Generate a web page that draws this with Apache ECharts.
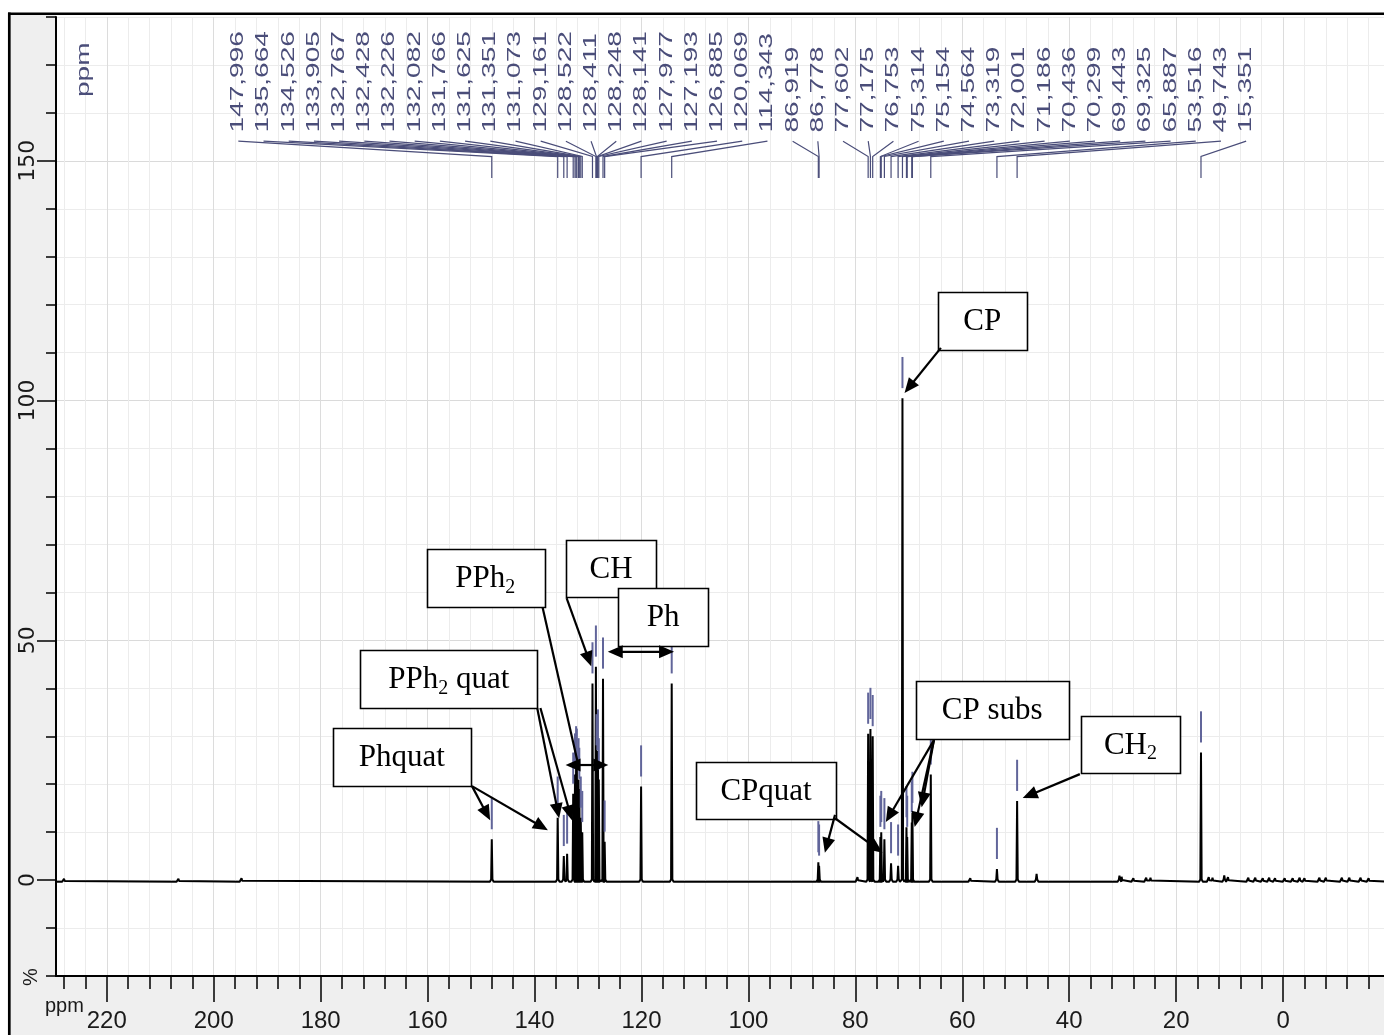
<!DOCTYPE html>
<html>
<head>
<meta charset="utf-8">
<title>13C NMR spectrum</title>
<script src="https://cdn.jsdelivr.net/npm/echarts@6/dist/echarts.min.js"></script>
<style>
  html, body { margin: 0; padding: 0; background: #fff; }
  #chart { width: 1384px; height: 1035px; }
</style>
</head>
<body>
<div id="chart"></div>
<script>
// Picked peaks: chemical shift (ppm) and intensity (%)
const peakPpm = [
  147.996, 135.664, 134.526, 133.905, 132.767, 132.428, 132.226, 132.082,
  131.766, 131.625, 131.351, 131.073, 129.161, 128.522, 128.411, 128.248,
  128.141, 127.977, 127.193, 126.885, 120.069, 114.343, 86.919, 86.778,
  77.602, 77.175, 76.753, 75.314, 75.154, 74.564, 73.319, 72.001,
  71.186, 70.436, 70.299, 69.443, 69.325, 65.887, 53.516, 49.743, 15.351
];
const peakHeight = [
  8.5, 13, 5, 5.5, 18, 22, 23.5, 23,
  21, 19, 13, 10, 41, 44.5, 26, 25,
  27, 21, 42, 8, 19.5, 41, 3.7, 3,
  30.5, 31.5, 30, 9, 10, 8.5, 3.5, 3,
  100.5, 11, 9, 12, 14, 22, 2.3, 16.5, 26.6
];
// Small unpicked signals and baseline noise
const minorPpm = [
  228.0, 206.6, 194.8, 79.6, 58.5, 46.1, 30.6, 30.2, 28.0, 25.6, 24.8,
  13.9, 13.2, 11.0, 10.3, 6.5, 5.2, 3.8, 2.6, 1.5, -0.3, -1.8, -3.1,
  -4.0, -6.8, -8.0, -11.0, -12.4, -14.5, -16.0
];
const minorHeight = [
  0.3, 0.3, 0.4, 0.6, 0.4, 1.3, 0.9, 0.7, 0.4, 0.5, 0.5,
  0.6, 0.5, 1.0, 0.6, 0.5, 0.5, 0.4, 0.5, 0.4, 0.4, 0.4, 0.5,
  0.4, 0.5, 0.5, 0.5, 0.5, 0.5, 0.4
];

// Axis ticks
const xMajorTicks = [220, 200, 180, 160, 140, 120, 100, 80, 60, 40, 20, 0];
const yMajorTicks = [0, 50, 100, 150];

// Assignment call-outs: text, box [ppm left, % top, ppm right, % bottom]
const calloutText = ['CP', 'PPh₂', 'CH', 'Ph', 'PPh₂ quat', 'Phquat', 'CPquat', 'CP subs', 'CH₂'];
const calloutBox = [
  [64.6, 122.6, 47.9, 110.5],
  [160.2, 69.0, 138.2, 56.9],
  [134.1, 70.9, 117.3, 59.0],
  [124.4, 60.9, 107.5, 48.8],
  [172.6, 48.0, 139.5, 35.9],
  [177.7, 31.7, 151.9, 19.6],
  [109.8, 24.6, 83.6, 12.7],
  [68.7, 41.5, 40.1, 29.4],
  [37.8, 34.2, 19.3, 22.3]
];
// Call-out arrows: [ppm from, % from, ppm to, % to, heads (0 none, 1 end, 2 both)]
const calloutArrows = [
  [64.0, 111.0, 70.8, 101.6, 1],
  [138.5, 56.9, 131.9, 24.4, 0],
  [134.2, 24.0, 126.2, 24.0, 2],
  [134.0, 58.8, 129.4, 44.6, 1],
  [126.3, 47.6, 113.9, 47.6, 2],
  [139.5, 35.9, 135.4, 12.9, 1],
  [138.9, 35.9, 133.0, 12.5, 1],
  [151.7, 19.6, 148.3, 12.5, 1],
  [151.7, 19.6, 137.5, 10.4, 1],
  [83.8, 13.6, 85.7, 5.7, 1],
  [83.8, 12.9, 74.9, 5.7, 1],
  [65.3, 29.2, 74.3, 12.1, 1],
  [65.3, 29.2, 68.9, 11.1, 1],
  [65.3, 29.2, 67.6, 15.2, 1],
  [38.0, 22.1, 48.7, 17.1, 1]
];

const X_MIN = -20, X_MAX = 229.5, Y_MIN = -20, Y_MAX = 180;
const BASE = -0.35;
const TAG_COLOR = '#4a4d79';
const MARK_COLOR = '#61659a';
const TAG_FROM = 195.4, TAG_TO = 6.9;       // ppm span of the shift-label row
const TAG_TEXT = 155.9, TAG_TOP = 154.1, TAG_ELBOW = 150.9, TAG_FOOT = 146.4;

// Spectrum trace: baseline with a narrow line for every signal
function buildTrace() {
  const sig = peakPpm.map((p, i) => [p, peakHeight[i]])
    .concat(minorPpm.map((p, i) => [p, minorHeight[i]]))
    .sort((a, b) => b[0] - a[0]);
  const pts = [[X_MAX, BASE]];
  sig.forEach(([p, h]) => {
    const foot = Math.min(0.5, h * 0.5);
    pts.push([p + 0.35, BASE], [p + 0.12, BASE + foot], [p, h],
             [p - 0.12, BASE + foot], [p - 0.35, BASE]);
  });
  pts.push([X_MIN, BASE]);
  return pts;
}

const minorXTicks = [];
for (let v = 228; v >= -16; v -= 4) minorXTicks.push(v);

const chart = echarts.init(document.getElementById('chart'), null, { renderer: 'canvas' });

const tickFont = "'Liberation Sans Narrow', 'Arial Narrow', 'Liberation Sans', Arial, sans-serif";

chart.setOption({
  animation: false,
  backgroundColor: '#ffffff',
  // the ppm axis runs on past the right edge of the page
  grid: { left: 56, top: 17, width: 1334, bottom: 59, show: false,
          containLabel: false, outerBoundsMode: 'none' },
  xAxis: [
    {
      type: 'value', inverse: true, min: X_MIN, max: X_MAX, interval: 4, position: 'bottom',
      axisLine: { show: true, onZero: false, lineStyle: { color: '#000', width: 2 } },
      axisTick: { show: true, inside: false, length: 13, customValues: minorXTicks,
                  lineStyle: { color: '#000', width: 1.5 } },
      axisLabel: { show: false },
      splitLine: { show: true, lineStyle: { color: '#ececec', width: 1 } }
    },
    {
      type: 'value', inverse: true, min: X_MIN, max: X_MAX, interval: 20, position: 'bottom',
      axisLine: { show: false, onZero: false },
      axisTick: { show: true, inside: false, length: 26, customValues: xMajorTicks,
                  lineStyle: { color: '#000', width: 1.5 } },
      axisLabel: { show: true, customValues: xMajorTicks, margin: 33, fontSize: 24,
                   fontFamily: tickFont, color: '#1a1a1a' },
      splitLine: { show: true, lineStyle: { color: '#dcdcdc', width: 1 } }
    }
  ],
  yAxis: [
    {
      type: 'value', min: Y_MIN, max: Y_MAX, interval: 10, position: 'left',
      axisLine: { show: true, onZero: false, lineStyle: { color: '#000', width: 2 } },
      axisTick: { show: true, inside: false, length: 10, lineStyle: { color: '#000', width: 1.5 } },
      axisLabel: { show: false },
      splitLine: { show: true, lineStyle: { color: '#ececec', width: 1 } }
    },
    {
      type: 'value', min: Y_MIN, max: Y_MAX, position: 'left',
      axisLine: { show: false, onZero: false },
      axisTick: { show: true, inside: false, length: 19, customValues: yMajorTicks,
                  lineStyle: { color: '#000', width: 1.5 } },
      axisLabel: { show: true, customValues: yMajorTicks, rotate: 90, margin: 17, fontSize: 22,
                   fontFamily: "'DejaVu Sans', sans-serif", color: '#1a1a1a' },
      splitLine: { show: true, lineStyle: { color: '#dadada', width: 1 } }
    }
  ],
  series: [
    {
      name: 'spectrum', type: 'line', xAxisIndex: 0, yAxisIndex: 0,
      data: buildTrace(), showSymbol: false, symbol: 'none', clip: true, z: 3,
      lineStyle: { color: '#000', width: 2 }, silent: true
    },
    {
      // peak-pick markers above each picked line
      name: 'markers', type: 'custom', xAxisIndex: 0, yAxisIndex: 0, z: 4, silent: true,
      data: peakPpm.map((p, i) => [p, peakHeight[i]]),
      renderItem: (params, api) => {
        const p = api.value(0), h = api.value(1);
        const a = api.coord([p, h + 2.1]), b = api.coord([p, h + 8.6]);
        return { type: 'line', shape: { x1: a[0], y1: a[1], x2: b[0], y2: b[1] },
                 style: { stroke: MARK_COLOR, lineWidth: 2 } };
      }
    },
    {
      // shift labels with leader lines to each picked line
      name: 'shiftTags', type: 'custom', xAxisIndex: 0, yAxisIndex: 0, z: 5, silent: true,
      data: peakPpm.map((p, i) => [p, i]),
      renderItem: (params, api) => {
        const p = api.value(0), i = api.value(1);
        const lx = TAG_FROM + (TAG_TO - TAG_FROM) * i / (peakPpm.length - 1);
        const t = api.coord([lx, TAG_TEXT]);
        const a = api.coord([lx, TAG_TOP]);
        const b = api.coord([p, TAG_ELBOW]);
        const c = api.coord([p, TAG_FOOT]);
        return {
          type: 'group',
          children: [
            { type: 'polyline', shape: { points: [a, b, c] },
              style: { stroke: TAG_COLOR, lineWidth: 1.2, fill: null } },
            { type: 'text', x: t[0], y: t[1], rotation: Math.PI / 2, scaleX: 1.56,
              style: { text: p.toFixed(3).replace('.', ','),
                       font: "18px 'Liberation Sans', Arial, sans-serif", fill: TAG_COLOR,
                       align: 'left', verticalAlign: 'middle',
                       textAlign: 'left', textVerticalAlign: 'middle' } }
          ]
        };
      }
    }
  ]
});

// Frame, axis captions and assignment call-outs
function toPx(v) { return chart.convertToPixel({ xAxisIndex: 0, yAxisIndex: 0 }, v); }

const HEAD_LEN = 15, HEAD_W = 6.5;
function arrowEls(a, b, heads) {
  const els = [];
  const dx = b[0] - a[0], dy = b[1] - a[1];
  const len = Math.hypot(dx, dy), ux = dx / len, uy = dy / len;
  const head = (tip, dx1, dy1) => {
    const bx = tip[0] - dx1 * HEAD_LEN, by = tip[1] - dy1 * HEAD_LEN;
    return { type: 'polygon', z: 60,
             shape: { points: [tip, [bx - dy1 * HEAD_W, by + dx1 * HEAD_W], [bx + dy1 * HEAD_W, by - dx1 * HEAD_W]] },
             style: { fill: '#000' } };
  };
  let s = a, e = b;
  if (heads >= 1) { els.push(head(b, ux, uy)); e = [b[0] - ux * HEAD_LEN * 0.7, b[1] - uy * HEAD_LEN * 0.7]; }
  if (heads === 2) { els.push(head(a, -ux, -uy)); s = [a[0] + ux * HEAD_LEN * 0.7, a[1] + uy * HEAD_LEN * 0.7]; }
  els.push({ type: 'line', z: 59, shape: { x1: s[0], y1: s[1], x2: e[0], y2: e[1] },
             style: { stroke: '#000', lineWidth: 2.2 } });
  return els;
}

function richLabel(str) {
  return str.split(/(₂)/).filter(Boolean)
    .map(part => part === '₂' ? '{s|2}' : '{m|' + part + '}').join('');
}

const serif = "'Liberation Serif', 'Times New Roman', serif";
const elements = [];

// grey margins and outer frame
elements.push({ type: 'rect', z: -1, shape: { x: 10.5, y: 15, width: 45.5, height: 1020 }, style: { fill: '#efefef' } });
elements.push({ type: 'rect', z: -1, shape: { x: 10.5, y: 977, width: 1374, height: 58 }, style: { fill: '#efefef' } });
elements.push({ type: 'line', z: 70, shape: { x1: 8, y1: 13.8, x2: 1384, y2: 13.8 }, style: { stroke: '#000', lineWidth: 2.6 } });
elements.push({ type: 'line', z: 70, shape: { x1: 9.3, y1: 12.5, x2: 9.3, y2: 1035 }, style: { stroke: '#000', lineWidth: 2.7 } });

// axis captions
elements.push({ type: 'text', z: 20, x: 31.5, y: 977, rotation: Math.PI / 2,
  style: { text: '%', font: "20px 'Liberation Sans', Arial, sans-serif", fill: '#1a1a1a',
           align: 'center', verticalAlign: 'middle', textAlign: 'center', textVerticalAlign: 'middle' } });
elements.push({ type: 'text', z: 20, x: 45, y: 1006,
  style: { text: 'ppm', font: "20px 'Liberation Sans', Arial, sans-serif", fill: '#1a1a1a',
           align: 'left', verticalAlign: 'middle', textAlign: 'left', textVerticalAlign: 'middle' } });
const hdr = toPx([224.3, 163.3]);
elements.push({ type: 'text', z: 20, x: hdr[0], y: hdr[1], rotation: Math.PI / 2, scaleX: 1.56,
  style: { text: 'ppm', font: "18px 'Liberation Sans', Arial, sans-serif", fill: TAG_COLOR,
           align: 'left', verticalAlign: 'middle', textAlign: 'left', textVerticalAlign: 'middle' } });

// call-out boxes
calloutText.forEach((txt, i) => {
  const [x1, y1, x2, y2] = calloutBox[i];
  const p1 = toPx([x1, y1]), p2 = toPx([x2, y2]);
  elements.push({ type: 'rect', z: 50,
    shape: { x: Math.round(p1[0]) + 0.5, y: Math.round(p1[1]) + 0.5,
             width: Math.round(p2[0] - p1[0]), height: Math.round(p2[1] - p1[1]) },
    style: { fill: '#fff', stroke: '#000', lineWidth: 1.6 } });
  elements.push({ type: 'text', z: 51, x: (p1[0] + p2[0]) / 2, y: (p1[1] + p2[1]) / 2 + 1,
    style: { text: richLabel(txt), align: 'center', verticalAlign: 'middle',
             textAlign: 'center', textVerticalAlign: 'middle',
             rich: {
               m: { fontSize: 31, fontFamily: serif, fill: '#000', lineHeight: 31, verticalAlign: 'top' },
               s: { fontSize: 20, fontFamily: serif, fill: '#000', lineHeight: 20, verticalAlign: 'top', padding: [14, 0, 0, 0] }
             } } });
});

// call-out arrows
calloutArrows.forEach(([x1, y1, x2, y2, heads]) => {
  arrowEls(toPx([x1, y1]), toPx([x2, y2]), heads).forEach(el => elements.push(el));
});

chart.setOption({ graphic: { elements } });
</script>
</body>
</html>
